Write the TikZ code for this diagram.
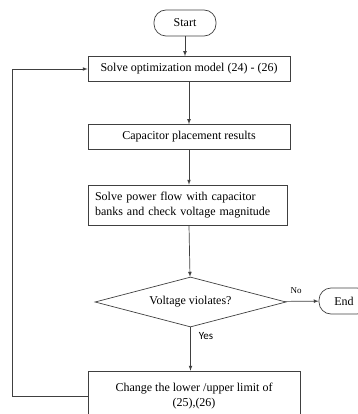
\documentclass[tikz,border=0pt]{standalone}
\usepackage{fontspec}
\setmainfont{Liberation Serif}
\newfontfamily\yesfont{Carlito}
\usetikzlibrary{calc, shapes.geometric, positioning}

\begin{document}
\begin{tikzpicture}[>=latex, x=1pt, y=-1pt, line width=0.7pt,
    every node/.style={font=\fontsize{12}{15}\selectfont},
    buoc/.style={draw=black!75, fill=white, minimum width=202pt, minimum height=25pt, inner sep=2pt},
    dau/.style={draw=black!75, rounded corners=12pt, minimum width=62pt, minimum height=26pt}]
    \useasboundingbox (0,0) rectangle (357,414);

    % Start va cac buoc giai
    \node[dau] (start) at (185,23) {Start};
    \node[buoc] (solve) at (189,69) {Solve optimization model (24) - (26)};
    \node[buoc] (cap) at (189,137) {Capacitor placement results};
    \node[buoc, minimum width=199pt, minimum height=40pt, text width=186pt, align=left] (flow) at (188,205)
        {Solve power flow with capacitor\\banks and check voltage magnitude};

    % Khoi dieu kien
    \node[draw=black!75, diamond, aspect=3.8, minimum width=191pt, minimum height=50pt, inner sep=0pt] (check) at (190.5,302) {Voltage violates?};
    \node[dau, minimum width=50pt] (end) at (344,301) {End};
    \node[buoc, minimum width=212pt, minimum height=50pt, align=center] (change) at (194,396)
        {Change the lower /upper limit of\\(25),(26)};

    % Mui ten
    \draw[->, black!75] (start) -- (solve.north -| start);
    \draw[->, black!75] (solve) -- (cap);
    \draw[->, black!75] (cap) -- (flow.north -| cap);
    \draw[->, black!75] (flow.south -| cap) -- (check);
    \draw[->, black!75] (check) -- (end);
    \draw[->, black!75] (check) -- (check.south |- change.north);
    \draw[->, black!75] (change.west) -- ++(-75,0) |- (solve.west);

    % Nhan
    \node[font=\fontsize{9}{10}\selectfont] (no) at (296,291) {No};
    \node[font=\yesfont\fontsize{11}{12}\selectfont] (yes) at (206,336) {Yes};
\end{tikzpicture}
\end{document}
